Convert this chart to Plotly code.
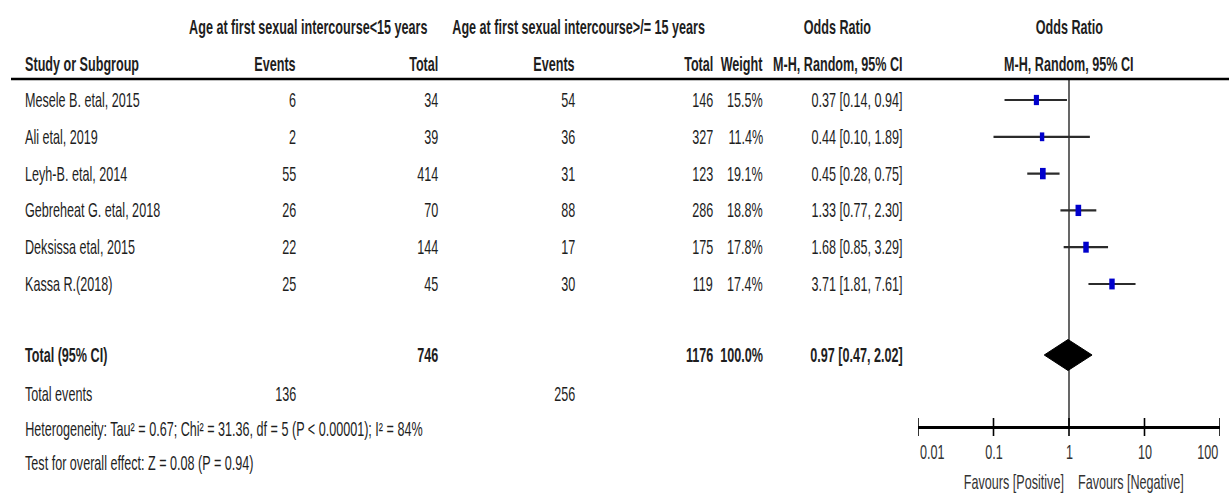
import math
import plotly.graph_objects as go

# ---- study data -------------------------------------------------------------
studies = [
    "Mesele B. etal, 2015",
    "Ali etal, 2019",
    "Leyh-B. etal, 2014",
    "Gebreheat G. etal, 2018",
    "Deksissa etal, 2015",
    "Kassa R.(2018)",
]
events_lt15 = [6, 2, 55, 26, 22, 25]
total_lt15 = [34, 39, 414, 70, 144, 45]
events_ge15 = [54, 36, 31, 88, 17, 30]
total_ge15 = [146, 327, 123, 286, 175, 119]
weights = [15.5, 11.4, 19.1, 18.8, 17.8, 17.4]
odds_ratio = [0.37, 0.44, 0.45, 1.33, 1.68, 3.71]
ci_lower = [0.14, 0.10, 0.28, 0.77, 0.85, 1.81]
ci_upper = [0.94, 1.89, 0.75, 2.30, 3.29, 7.61]

pooled_or = 0.97
pooled_ci = [0.47, 2.02]
pooled_weight = 100.0
sum_total_lt15 = 746
sum_total_ge15 = 1176
sum_events_lt15 = 136
sum_events_ge15 = 256

tick_values = [0.01, 0.1, 1, 10, 100]
tick_labels = ["0.01", "0.1", "1", "10", "100"]

heterogeneity = "Heterogeneity: Tau\u00b2 = 0.67; Chi\u00b2 = 31.36, df = 5 (P &lt; 0.00001); I\u00b2 = 84%"
overall_effect = "Test for overall effect: Z = 0.08 (P = 0.94)"

# ---- page geometry (pixels) -------------------------------------------------
W, H = 1229, 495
FONT = "Liberation Sans, Arial, Helvetica, sans-serif"
FONT_SIZE = 20
TEXT_STRETCH = 0.63          # horizontal squeeze applied to every label
INK = "#1e1e1e"
GREY = "#333333"

Y_HEAD1, Y_HEAD2, Y_RULE = 27, 64, 79
Y_ROW0, ROW_STEP = 100, 36.8
Y_TOTAL, Y_EVENTS, Y_HET, Y_TEST = 355, 394, 429, 463
Y_AXIS, Y_TICKLBL, Y_FAVOURS = 427, 452, 482

X_NAME, X_EV1, X_TOT1, X_EV2, X_TOT2 = 23, 298, 440, 577, 715
X_WEIGHT, X_OR = 765, 905
X_GROUP1, X_GROUP2, X_ORHEAD = 308, 578, 837
PLOT_X0, PLOT_X1 = 918, 1220
X_LINE_START = 11

row_y = [Y_ROW0 + i * ROW_STEP for i in range(len(studies))]

annotations = []


def text(x_px, y_px, s, anchor="left", bold=False, color=INK):
    annotations.append(dict(
        xref="paper", x=x_px / W, yref="y", y=y_px,
        xanchor=anchor, yanchor="middle", showarrow=False,
        text=f"<b>{s}</b>" if bold else s,
        font=dict(family=FONT, size=FONT_SIZE, color=color),
    ))


# headers
text(X_GROUP1, Y_HEAD1, "Age at first sexual intercourse&lt;15 years", "center", True)
text(X_GROUP2, Y_HEAD1, "Age at first sexual intercourse&gt;/= 15 years", "center", True)
text(X_ORHEAD, Y_HEAD1, "Odds Ratio", "center", True)
text((PLOT_X0 + PLOT_X1) / 2, Y_HEAD1, "Odds Ratio", "center", True)

text(X_NAME, Y_HEAD2, "Study or Subgroup", "left", True)
text(X_EV1, Y_HEAD2, "Events", "right", True)
text(X_TOT1, Y_HEAD2, "Total", "right", True)
text(X_EV2, Y_HEAD2, "Events", "right", True)
text(X_TOT2, Y_HEAD2, "Total", "right", True)
text(X_WEIGHT, Y_HEAD2, "Weight", "right", True)
text(X_OR, Y_HEAD2, "M-H, Random, 95% CI", "right", True)
text((PLOT_X0 + PLOT_X1) / 2, Y_HEAD2, "M-H, Random, 95% CI", "center", True)

# study rows
for i, name in enumerate(studies):
    y = row_y[i]
    text(X_NAME, y, name)
    text(X_EV1, y, str(events_lt15[i]), "right")
    text(X_TOT1, y, str(total_lt15[i]), "right")
    text(X_EV2, y, str(events_ge15[i]), "right")
    text(X_TOT2, y, str(total_ge15[i]), "right")
    text(X_WEIGHT, y, f"{weights[i]:.1f}%", "right")
    text(X_OR, y, f"{odds_ratio[i]:.2f} [{ci_lower[i]:.2f}, {ci_upper[i]:.2f}]", "right")

# pooled row and footer
text(X_NAME, Y_TOTAL, "Total (95% CI)", "left", True)
text(X_TOT1, Y_TOTAL, str(sum_total_lt15), "right", True)
text(X_TOT2, Y_TOTAL, str(sum_total_ge15), "right", True)
text(X_WEIGHT, Y_TOTAL, f"{pooled_weight:.1f}%", "right", True)
text(X_OR, Y_TOTAL, f"{pooled_or:.2f} [{pooled_ci[0]:.2f}, {pooled_ci[1]:.2f}]", "right", True)

text(X_NAME, Y_EVENTS, "Total events")
text(X_EV1, Y_EVENTS, str(sum_events_lt15), "right")
text(X_EV2, Y_EVENTS, str(sum_events_ge15), "right")
text(X_NAME, Y_HET, heterogeneity)
text(X_NAME, Y_TEST, overall_effect)

# axis tick labels (outer labels kept inside the axis span)
for k, (v, lab) in enumerate(zip(tick_values, tick_labels)):
    anchor = "left" if k == 0 else ("right" if k == len(tick_values) - 1 else "center")
    annotations.append(dict(
        xref="x", x=math.log10(v), yref="y", y=Y_TICKLBL,
        xanchor=anchor, yanchor="middle", showarrow=False, text=lab,
        font=dict(family=FONT, size=FONT_SIZE, color=GREY),
    ))

annotations.append(dict(
    xref="x", x=0, xshift=-3, yref="y", y=Y_FAVOURS, xanchor="right", yanchor="middle",
    showarrow=False, text="Favours [Positive]",
    font=dict(family=FONT, size=FONT_SIZE, color=GREY)))
annotations.append(dict(
    xref="x", x=0, xshift=7, yref="y", y=Y_FAVOURS, xanchor="left", yanchor="middle",
    showarrow=False, text="Favours [Negative]",
    font=dict(family=FONT, size=FONT_SIZE, color=GREY)))

# ---- graphical marks --------------------------------------------------------
fig = go.Figure()

# line of no effect
fig.add_trace(go.Scatter(x=[1, 1], y=[Y_RULE, Y_AXIS], mode="lines",
                         line=dict(color="black", width=1.2), hoverinfo="skip"))

# confidence intervals
ci_x, ci_y = [], []
for lo, hi, y in zip(ci_lower, ci_upper, row_y):
    ci_x += [lo, hi, None]
    ci_y += [y, y, None]
fig.add_trace(go.Scatter(x=ci_x, y=ci_y, mode="lines",
                         line=dict(color="#2b2b2b", width=2.2), hoverinfo="skip"))

# study weight boxes (size follows the weight)
for w, est, y in zip(weights, odds_ratio, row_y):
    half_h = 1.3 * math.sqrt(w)
    fig.add_trace(go.Scatter(x=[est, est], y=[y - half_h, y + half_h], mode="lines",
                             line=dict(color="#0000cc", width=1.3 * math.sqrt(w)),
                             hoverinfo="skip"))

# pooled estimate diamond
half_d = 15.5
fig.add_trace(go.Scatter(
    x=[pooled_ci[0], pooled_or, pooled_ci[1], pooled_or, pooled_ci[0]],
    y=[Y_TOTAL, Y_TOTAL - half_d, Y_TOTAL, Y_TOTAL + half_d, Y_TOTAL],
    mode="lines", fill="toself", fillcolor="black",
    line=dict(color="black", width=1), hoverinfo="skip"))

# tick marks crossing the axis line
tk_x, tk_y = [], []
for v in tick_values:
    tk_x += [v, v, None]
    tk_y += [Y_AXIS - 9, Y_AXIS + 9, None]
fig.add_trace(go.Scatter(x=tk_x, y=tk_y, mode="lines",
                         line=dict(color="black", width=1.6), hoverinfo="skip"))

fig.update_layout(
    width=W, height=H,
    margin=dict(l=0, r=0, t=0, b=0),
    paper_bgcolor="white", plot_bgcolor="white",
    showlegend=False,
    annotations=annotations,
    shapes=[dict(type="line", xref="paper", x0=X_LINE_START / W, x1=1,
                 yref="y", y0=Y_RULE, y1=Y_RULE,
                 line=dict(color="black", width=2.5))],
    xaxis=dict(
        type="log", range=[math.log10(tick_values[0]), math.log10(tick_values[-1])],
        domain=[PLOT_X0 / W, PLOT_X1 / W],
        anchor="free", position=1 - Y_AXIS / H,
        showline=True, linecolor="black", linewidth=3,
        ticks="", showticklabels=False, showgrid=False, zeroline=False,
    ),
    yaxis=dict(range=[H, 0], domain=[0, 1], visible=False, showgrid=False, zeroline=False),
)

# Narrow the lettering horizontally, keeping each label's anchored edge in place.
condense_js = """
var gd = document.getElementById('{plot_id}');
var anns = (gd._fullLayout && gd._fullLayout.annotations) || [];
gd.querySelectorAll('g.annotation').forEach(function (g) {
  var a = anns[+g.getAttribute('data-index')] || {};
  var t = g.querySelector('text.annotation-text') || g.querySelector('text');
  if (!t) return;
  var bb = t.getBBox();
  var ox = a.xanchor === 'left' ? bb.x
         : (a.xanchor === 'right' ? bb.x + bb.width : bb.x + bb.width / 2);
  var prev = t.getAttribute('transform') || '';
  t.setAttribute('transform', prev + ' translate(' + ox + ',0) scale(%s,1) translate(' + (-ox) + ',0)');
});
""" % TEXT_STRETCH

fig.write_html("out.html", post_script=condense_js)
